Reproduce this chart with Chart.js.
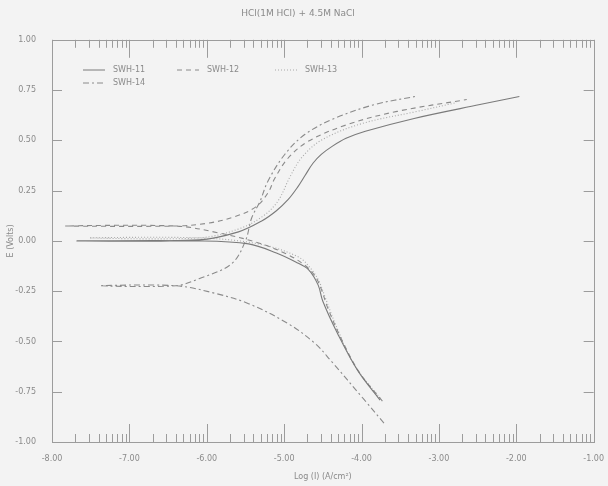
<!DOCTYPE html>
<html>
<head>
<meta charset="utf-8">
<script src="https://cdn.jsdelivr.net/npm/chart.js@4.4.0/dist/chart.umd.min.js"></script>
<style>
  body { margin: 0; background: #f3f3f3; }
  #wrap { width: 608px; height: 486px; }
</style>
</head>
<body>
<div id="wrap"><canvas id="tafel" width="608" height="486"></canvas></div>
<script>
// series: log(i) and E, cathodic end -> Ecorr -> anodic end
const seriesNames = ['SWH-11', 'SWH-12', 'SWH-13', 'SWH-14'];

const swh11LogI = [-3.76, -4.05, -4.31, -4.50, -4.56, -4.68, -4.85, -5.10, -5.46, -6.10, -7.68, -6.10, -5.59, -5.29, -5.10, -4.95, -4.83, -4.73, -4.63, -4.52, -4.38, -4.20, -3.95, -3.32, -2.47, -1.96];
const swh11E    = [-0.792, -0.644, -0.46, -0.30, -0.22, -0.145, -0.105, -0.06, -0.015, 0, 0, 0.005, 0.045, 0.099, 0.150, 0.205, 0.265, 0.325, 0.385, 0.43, 0.47, 0.51, 0.545, 0.609, 0.678, 0.718];

const swh12LogI = [-3.73, -4.03, -4.27, -4.44, -4.52, -4.60, -4.72, -4.95, -5.33, -5.85, -6.40, -7.83, -6.40, -5.97, -5.65, -5.37, -5.21, -5.12, -4.95, -4.69, -4.18, -3.54, -2.64];
const swh12E    = [-0.797, -0.653, -0.480, -0.33, -0.24, -0.175, -0.125, -0.069, -0.010, 0.040, 0.074, 0.074, 0.074, 0.089, 0.119, 0.168, 0.238, 0.312, 0.411, 0.495, 0.579, 0.644, 0.703];

const swh13LogI = [-3.76, -4.09, -4.33, -4.47, -4.55, -4.65, -4.82, -5.33, -6.10, -7.51, -6.10, -5.59, -5.27, -5.08, -4.92, -4.76, -4.50, -3.99, -3.28, -2.77];
const swh13E    = [-0.782, -0.619, -0.421, -0.28, -0.20, -0.14, -0.079, -0.015, 0.015, 0.015, 0.015, 0.059, 0.124, 0.198, 0.322, 0.421, 0.505, 0.584, 0.644, 0.688];

const swh14LogI = [-3.71, -3.96, -4.40, -4.60, -4.95, -5.46, -5.88, -6.40, -7.38, -6.40, -6.10, -5.68, -5.50, -5.42, -5.31, -5.21, -4.99, -4.73, -4.35, -3.83, -3.31];
const swh14E    = [-0.906, -0.792, -0.594, -0.510, -0.411, -0.312, -0.262, -0.223, -0.223, -0.223, -0.188, -0.114, 0, 0.114, 0.198, 0.297, 0.431, 0.530, 0.609, 0.678, 0.718];

const xTicks = [-8, -7, -6, -5, -4, -3, -2, -1];
const yTicks = [-1, -0.75, -0.5, -0.25, 0, 0.25, 0.5, 0.75, 1];

function pts(xs, ys) {
  return xs.map((x, i) => ({ x: x, y: ys[i] }));
}

const lineStyles = [
  { color: '#7a7a7a', dash: [] },
  { color: '#8a8a8a', dash: [5, 4] },
  { color: '#a8a8a8', dash: [1, 2] },
  { color: '#8a8a8a', dash: [6, 3, 2, 3] }
];
const allData = [pts(swh11LogI, swh11E), pts(swh12LogI, swh12E), pts(swh13LogI, swh13E), pts(swh14LogI, swh14E)];

const datasets = seriesNames.map((name, i) => ({
  label: name,
  data: allData[i],
  showLine: true,
  borderColor: lineStyles[i].color,
  borderDash: lineStyles[i].dash,
  borderWidth: 1.1,
  pointRadius: 0,
  tension: 0.35,
  fill: false
}));

// box, inward ticks (log minor ticks on x) and the in-plot legend
const frameTicks = {
  id: 'frameTicks',
  afterDraw(chart) {
    const ctx = chart.ctx;
    const a = chart.chartArea;
    const xs = chart.scales.x;
    const ys = chart.scales.y;
    ctx.save();
    ctx.strokeStyle = '#9c9c9c';
    ctx.lineWidth = 1;
    ctx.setLineDash([]);
    ctx.strokeRect(Math.round(a.left) + 0.5, Math.round(a.top) + 0.5, Math.round(a.width), Math.round(a.height));
    ctx.beginPath();
    xTicks.forEach(d => {
      for (let k = 1; k < 10; k++) {
        const v = d + Math.log10(k);
        if (v > -1) break;
        const px = Math.round(xs.getPixelForValue(v)) + 0.5;
        const len = k == 1 ? 18 : 8;
        ctx.moveTo(px, a.bottom); ctx.lineTo(px, a.bottom - len);
        ctx.moveTo(px, a.top); ctx.lineTo(px, a.top + len);
      }
    });
    yTicks.forEach(v => {
      const py = Math.round(ys.getPixelForValue(v)) + 0.5;
      ctx.moveTo(a.left, py); ctx.lineTo(a.left + 10, py);
      ctx.moveTo(a.right, py); ctx.lineTo(a.right - 10, py);
    });
    ctx.stroke();

    const spots = [[83, 70], [177, 70], [275, 70], [83, 83]];
    ctx.font = '8px "DejaVu Sans"';
    ctx.textBaseline = 'middle';
    ctx.fillStyle = '#8a8a8a';
    chart.data.datasets.forEach((ds, i) => {
      const s = spots[i];
      ctx.beginPath();
      ctx.strokeStyle = ds.borderColor;
      ctx.setLineDash(ds.borderDash);
      ctx.moveTo(s[0], s[1]); ctx.lineTo(s[0] + 22, s[1]);
      ctx.stroke();
      ctx.fillText(ds.label, s[0] + 30, s[1]);
    });
    ctx.restore();
  }
};

new Chart(document.getElementById('tafel'), {
  type: 'scatter',
  data: { datasets: datasets },
  options: {
    responsive: false,
    animation: false,
    layout: { padding: { right: 12 } },
    plugins: {
      legend: { display: false },
      tooltip: { enabled: false },
      title: {
        display: true,
        text: 'HCl(1M HCl) + 4.5M NaCl',
        color: '#8a8a8a',
        font: { size: 9, family: 'DejaVu Sans', weight: 'normal' },
        padding: { top: 8, bottom: 21 }
      }
    },
    scales: {
      x: {
        type: 'linear',
        min: -8,
        max: -1,
        afterBuildTicks: s => { s.ticks = xTicks.map(v => ({ value: v })); },
        afterFit: s => { s.height = 44; },
        grid: { display: false },
        border: { display: false },
        ticks: {
          color: '#8a8a8a',
          font: { size: 8, family: 'DejaVu Sans' },
          padding: 4,
          maxRotation: 0,
          callback: v => v.toFixed(2)
        },
        title: {
          display: true,
          text: 'Log (I) (A/cm²)',
          color: '#8a8a8a',
          font: { size: 8, family: 'DejaVu Sans' },
          padding: { top: 8 }
        }
      },
      y: {
        min: -1,
        max: 1,
        afterBuildTicks: s => { s.ticks = yTicks.map(v => ({ value: v })); },
        afterFit: s => { s.width = 52; },
        grid: { display: false },
        border: { display: false },
        ticks: {
          color: '#8a8a8a',
          font: { size: 8, family: 'DejaVu Sans' },
          padding: 8,
          callback: v => v.toFixed(2)
        },
        title: {
          display: true,
          text: 'E (Volts)',
          color: '#8a8a8a',
          font: { size: 8, family: 'DejaVu Sans' },
          padding: { top: 6, bottom: 0 }
        }
      }
    }
  },
  plugins: [frameTicks]
});
</script>
</body>
</html>
